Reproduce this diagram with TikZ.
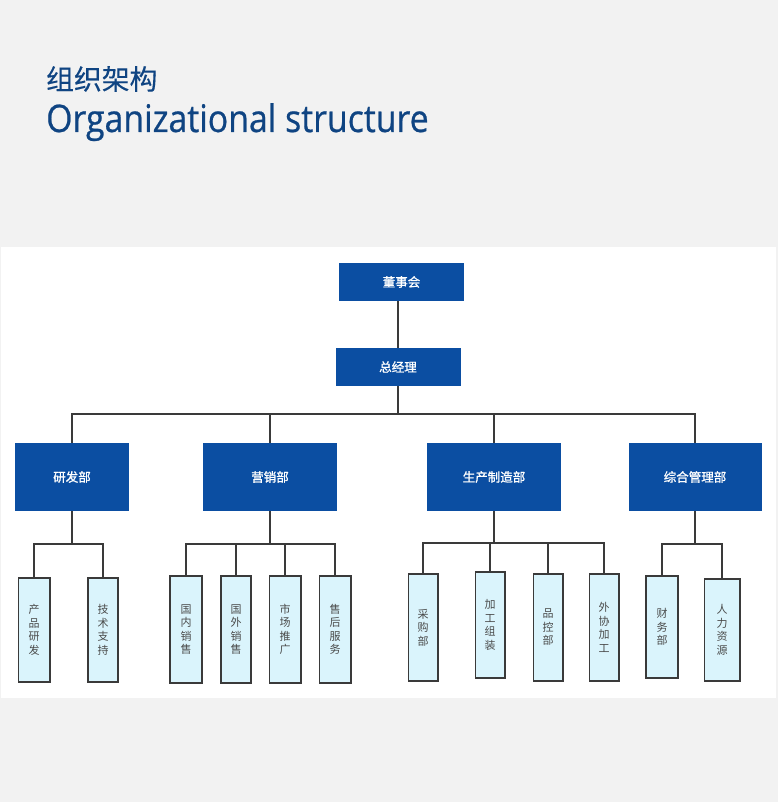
\documentclass[tikz,border=0pt]{standalone}
\usepackage{fontspec}
\setmainfont{Open Sans}
\newfontfamily\titlefont[FakeStretch=0.89, FakeBold=0.6]{Open Sans}
\newfontfamily\cjk{Noto Sans CJK SC}
\newfontfamily\cjkb[FakeBold=1.2]{Noto Sans CJK SC}
\newfontfamily\cjkt[FakeBold=0.3]{Noto Sans CJK SC}
\definecolor{bg}{HTML}{F2F2F2}
\definecolor{titleblue}{HTML}{0F4482}
\definecolor{topblue}{HTML}{0B4EA2}
\definecolor{childfill}{HTML}{DAF4FC}
\definecolor{edge}{HTML}{3A3A3A}
\definecolor{childtext}{HTML}{4A4A4A}
\newcommand\kid[6]{\node[childbox, minimum width=#5pt-1.6pt, minimum height=#4pt-#3pt-1.6pt] (#1) at (#2, {(#3+#4)/2}) {#6};}
\begin{document}
\begin{tikzpicture}[x=1pt,y=-1pt,
  topbox/.style={fill=topblue, text=white, inner sep=0pt, font=\cjkb\fontsize{12.5}{14}\selectfont},
  childbox/.style={draw=edge, line width=1.6pt, fill=childfill, inner sep=0pt, text=childtext, align=center, font=\cjk\fontsize{11}{13.5}\selectfont},
  conn/.style={draw=edge, line width=2pt}]
\fill[bg] (0,0) rectangle (778,802);
\fill[white] (1,247) rectangle (776,698);
% titles
\node[anchor=west, inner sep=0pt, text=titleblue, font=\cjkt\fontsize{27.8}{30}\selectfont] (t1) at (46,79) {组织架构};
\node[anchor=base west, inner sep=0pt, text=titleblue, font=\titlefont\fontsize{38}{42}\selectfont] (t2) at (46,132) {Organizational structure};
% top boxes
\node[topbox, minimum width=125pt, minimum height=38pt] (dsh) at (401.5,282) {董事会};
\node[topbox, minimum width=125pt, minimum height=38pt] (zjl) at (398,367) {总经理};
\node[topbox, minimum width=114pt, minimum height=68pt] (yf) at (72,477) {研发部};
\node[topbox, minimum width=134pt, minimum height=68pt] (yx) at (270,477) {营销部};
\node[topbox, minimum width=134pt, minimum height=68pt] (sc) at (494,477) {生产制造部};
\node[topbox, minimum width=133pt, minimum height=68pt] (zh) at (695,477) {综合管理部};
% children
\kid{c1}{34}{577}{683}{33}{产\\品\\研\\发}
\kid{c2}{103}{577}{683}{32}{技\\术\\支\\持}
\kid{c3}{186}{575}{684}{34}{国\\内\\销\\售}
\kid{c4}{236}{575}{684}{32}{国\\外\\销\\售}
\kid{c5}{285}{575}{684}{33}{市\\场\\推\\广}
\kid{c6}{335}{575}{684}{33}{售\\后\\服\\务}
\kid{c7}{423}{573}{682}{31}{采\\购\\部}
\kid{c8}{490}{571}{679}{31}{加\\工\\组\\装}
\kid{c9}{548}{573}{682}{31}{品\\控\\部}
\kid{c10}{604}{573}{682}{31}{外\\协\\加\\工}
\kid{c11}{662}{575}{679}{34}{财\\务\\部}
\kid{c12}{722}{578}{682}{37}{人\\力\\资\\源}
% connectors
\coordinate (bus) at (0,414);
\coordinate (sub) at (0,544);
\coordinate (subsc) at (0,543);
\draw[conn] (zjl.north) -- (zjl.north |- dsh.south);
\draw[conn] (zjl.south) -- (zjl.south |- bus);
\draw[conn] (yf.north) -- (yf.north |- bus) -- (zh.north |- bus) -- (zh.north);
\draw[conn] (yx.north) -- (yx.north |- bus);
\draw[conn] (sc.north) -- (sc.north |- bus);
\draw[conn] (yf.south) -- (yf.south |- sub);
\draw[conn] (c1.north) -- (c1.north |- sub) -- (c2.north |- sub) -- (c2.north);
\draw[conn] (yx.south) -- (yx.south |- sub);
\draw[conn] (c3.north) -- (c3.north |- sub) -- (c6.north |- sub) -- (c6.north);
\draw[conn] (c4.north) -- (c4.north |- sub);
\draw[conn] (c5.north) -- (c5.north |- sub);
\draw[conn] (sc.south) -- (sc.south |- subsc);
\draw[conn] (c7.north) -- (c7.north |- subsc) -- (c10.north |- subsc) -- (c10.north);
\draw[conn] (c8.north) -- (c8.north |- subsc);
\draw[conn] (c9.north) -- (c9.north |- subsc);
\draw[conn] (zh.south) -- (zh.south |- sub);
\draw[conn] (c11.north) -- (c11.north |- sub) -- (c12.north |- sub) -- (c12.north);
\end{tikzpicture}
\end{document}
